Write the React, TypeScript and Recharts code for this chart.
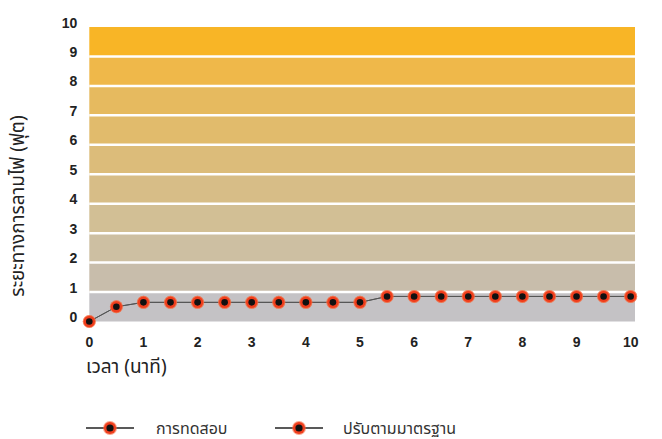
import React from 'react';
import {
  ComposedChart,
  Line,
  XAxis,
  YAxis,
  ReferenceArea,
  ReferenceLine,
  Legend,
  Label,
} from 'recharts';

// Elapsed time in minutes
const times = [0, 0.5, 1, 1.5, 2, 2.5, 3, 3.5, 4, 4.5, 5, 5.5, 6, 6.5, 7, 7.5, 8, 8.5, 9, 9.5, 10];
// Flame spread distance (ft)
const testValues = [0, 0.5, 0.65, 0.65, 0.65, 0.65, 0.65, 0.65, 0.65, 0.65, 0.65, 0.85, 0.85, 0.85, 0.85, 0.85, 0.85, 0.85, 0.85, 0.85, 0.85];
const standardValues = [0, 0.5, 0.65, 0.65, 0.65, 0.65, 0.65, 0.65, 0.65, 0.65, 0.65, 0.85, 0.85, 0.85, 0.85, 0.85, 0.85, 0.85, 0.85, 0.85, 0.85];

const xTicks = [0, 1, 2, 3, 4, 5, 6, 7, 8, 9, 10];
const yTicks = [0, 1, 2, 3, 4, 5, 6, 7, 8, 9, 10];
const bandLevels = [0, 1, 2, 3, 4, 5, 6, 7, 8, 9];
const gridLevels = [1, 2, 3, 4, 5, 6, 7, 8, 9];

const seriesNames = ['การทดสอบ', 'ปรับตามมาตรฐาน'];

// band fills from the bottom (grey) to the top (amber)
const bandColors = [
  '#c4c2c5',
  '#c8bdab',
  '#cdbfa2',
  '#d2bf95',
  '#d7bd87',
  '#dcbc7a',
  '#e1bb6c',
  '#e6ba5f',
  '#efb84a',
  '#f8b526',
];

const data = times.map((t, i) => ({ t, test: testValues[i], standard: standardValues[i] }));

const tickFont = '"Liberation Sans", Arial, sans-serif';
const thaiFont = '"Noto Sans", "Noto Sans Thai", "DejaVu Sans", sans-serif';

const Dot = (props: any) => {
  const { cx, cy } = props;
  if (cx == null || cy == null) return null;
  return (
    <g>
      <circle cx={cx} cy={cy} r={6.5} fill="#f5663a" opacity={0.6} />
      <circle cx={cx} cy={cy} r={5.5} fill="#ef3d1c" />
      <circle cx={cx} cy={cy} r={3.3} fill="#111" />
    </g>
  );
};

const XTick = (props: any) => {
  const { x, y, payload } = props;
  return (
    <text x={x} y={y} dy={12} textAnchor="middle" dominantBaseline="central"
      fontFamily={tickFont} fontWeight="bold" fontSize={14} fill="#222">
      {payload.value}
    </text>
  );
};

const YTick = (props: any) => {
  const { x, y, payload } = props;
  return (
    <text x={x} y={y} dx={-4} dy={-4.5} textAnchor="end" dominantBaseline="central"
      fontFamily={tickFont} fontWeight="bold" fontSize={14} fill="#222">
      {payload.value}
    </text>
  );
};

const LegendIcon = () => (
  <svg width={48} height={16} style={{ display: 'block' }}>
    <line x1={0} y1={8} x2={48} y2={8} stroke="#222" strokeWidth={1.5} />
    <circle cx={24} cy={8} r={7} fill="#f5663a" opacity={0.6} />
    <circle cx={24} cy={8} r={6} fill="#ef3d1c" />
    <circle cx={24} cy={8} r={3.6} fill="#111" />
  </svg>
);

const LegendContent = () => (
  <div style={{ display: 'flex', alignItems: 'center', height: 20, lineHeight: '20px', fontFamily: thaiFont, fontSize: 16, color: '#333' }}>
    <LegendIcon />
    <span style={{ marginLeft: 22, width: 119 }}>{seriesNames[0]}</span>
    <LegendIcon />
    <span style={{ marginLeft: 20 }}>{seriesNames[1]}</span>
  </div>
);

export default function App() {
  return (
    <div style={{ position: 'fixed', left: 0, top: 0, width: 662, height: 439, background: '#fff' }}>
      <ComposedChart
        width={662}
        height={439}
        data={data}
        margin={{ top: 27, right: 27, bottom: 87.5, left: 0 }}
      >
        <XAxis
          type="number"
          dataKey="t"
          domain={[0, 10.08]}
          ticks={xTicks}
          axisLine={false}
          tickLine={false}
          height={30}
          tick={<XTick />}
          interval={0}
        >
          <Label
            content={() => (
              <text x={86} y={366} dominantBaseline="central" fontFamily={thaiFont} fontSize={19} fill="#222">
                เวลา (นาที)
              </text>
            )}
          />
        </XAxis>
        <YAxis
          type="number"
          domain={[0, 10]}
          ticks={yTicks}
          axisLine={false}
          tickLine={false}
          width={89.3}
          tick={<YTick />}
          interval={0}
        >
          <Label
            content={() => (
              <text x={17} y={206} textAnchor="middle" dominantBaseline="central"
                transform="rotate(-90 17 206)" fontFamily={thaiFont} fontSize={19} fill="#222">
                ระยะทางการลามไฟ (ฟุต)
              </text>
            )}
          />
        </YAxis>
        {bandLevels.map((lv, i) => (
          <ReferenceArea key={lv} x1={0} x2={10.08} y1={lv} y2={lv + 1} fill={bandColors[i]} fillOpacity={1} stroke="none" />
        ))}
        {gridLevels.map((lv) => (
          <ReferenceLine key={lv} y={lv} stroke="#ffffff" strokeWidth={2.5} />
        ))}
        <Line
          type="linear"
          dataKey="standard"
          name={seriesNames[1]}
          stroke="#555"
          strokeWidth={1}
          dot={<Dot />}
          activeDot={false}
          isAnimationActive={false}
        />
        <Line
          type="linear"
          dataKey="test"
          name={seriesNames[0]}
          stroke="#555"
          strokeWidth={1}
          dot={<Dot />}
          activeDot={false}
          isAnimationActive={false}
        />
        <Legend
          verticalAlign="middle"
          align="center"
          layout="horizontal"
          content={<LegendContent />}
          wrapperStyle={{ top: 418, left: 86, width: 'auto', height: 20 }}
        />
      </ComposedChart>
    </div>
  );
}
